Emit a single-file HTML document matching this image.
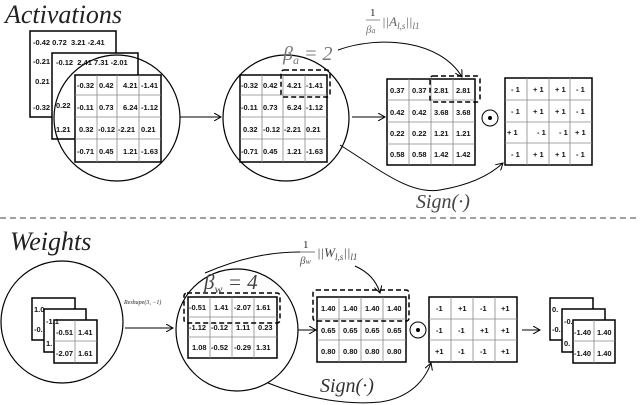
<!DOCTYPE html>
<html><head><style>html,body{margin:0;padding:0;background:#fff}svg{display:block}
.t{font-family:"Liberation Sans",sans-serif;font-size:7.5px;font-weight:bold;fill:#111}
.m{font-family:"Liberation Serif",serif;font-style:italic;fill:#222}
</style></head><body>
<svg width="640" height="405" viewBox="0 0 640 405" xmlns="http://www.w3.org/2000/svg">
<defs><marker id="a" markerWidth="8" markerHeight="8" refX="7" refY="4" orient="auto" markerUnits="userSpaceOnUse"><path d="M0,0 L7,4 L0,8" fill="none" stroke="#000" stroke-width="1"/></marker></defs>
<g fill="none" stroke="#000">
<text x="5" y="23" class="m" font-size="26" stroke="none">Activations</text>
<rect x="30" y="31" width="86" height="86" fill="#fff" stroke-width="1.5"/>
<rect x="52" y="53" width="86" height="86" fill="#fff" stroke-width="1.5"/>
<circle cx="117" cy="118" r="63" stroke-width="1.2"/>
<rect x="75" y="75" width="86" height="87" fill="#fff" stroke-width="1.5"/>
<path d="M97,75V162M117,75V162M139,75V162M75,95H161M75,117H161M75,139H161" stroke="#888" stroke-width="0.8"/>
<line x1="180" y1="117" x2="221" y2="117" marker-end="url(#a)"/>
<circle cx="286" cy="118" r="63" stroke-width="1.2"/>
<rect x="240" y="75" width="87" height="87" fill="#fff" stroke-width="1.5"/>
<path d="M262,75V162M283,75V162M305,75V162M240,95H327M240,117H327M240,139H327" stroke="#888" stroke-width="0.8"/>
<rect x="281" y="70" width="49" height="27" rx="3" stroke-dasharray="5,3" stroke-width="1.5"/>
<path d="M338,50 C380,35 440,40 462,77" marker-end="url(#a)"/>
<line x1="352" y1="117" x2="385" y2="117" marker-end="url(#a)"/>
<rect x="387" y="79" width="88" height="86" stroke-width="1.5"/>
<path d="M409,79V165M431,79V165M453,79V165M387,100H475M387,122H475M387,144H475" stroke="#888" stroke-width="0.8"/>
<rect x="430" y="76" width="50" height="26" rx="3" stroke-dasharray="5,3" stroke-width="1.5"/>
<circle cx="490" cy="118" r="8"/><circle cx="490" cy="118" r="1.5" fill="#000"/>
<rect x="505" y="78" width="87" height="87" stroke-width="1.5"/>
<path d="M527,78V165M549,78V165M570,78V165M505,100H592M505,122H592M505,143H592" stroke="#888" stroke-width="0.8"/>
<path d="M340,145 C380,170 410,195 440,190 C470,185 490,175 503,163" marker-end="url(#a)"/>
<line x1="0" y1="218" x2="640" y2="218" stroke="#444" stroke-dasharray="6,4"/>
<text x="10" y="250" class="m" font-size="26" stroke="none">Weights</text>
<circle cx="62" cy="322" r="61" stroke-width="1.2"/>
<rect x="32" y="298" width="43" height="42" fill="#fff" stroke-width="1.5"/>
<rect x="44" y="309" width="42" height="43" fill="#fff" stroke-width="1.5"/>
<rect x="54" y="320" width="43" height="43" fill="#fff" stroke-width="1.5"/>
<path d="M75,320V363M54,341H97" stroke="#888" stroke-width="0.8"/>
<text x="124" y="304" class="m" font-size="6" stroke="none">Reshape(3, −1)</text>
<line x1="125" y1="328" x2="173" y2="328" marker-end="url(#a)"/>
<circle cx="237" cy="330" r="61" stroke-width="1.2"/>
<rect x="188" y="297" width="89" height="61" fill="#fff" stroke-width="1.5"/>
<path d="M210,297V358M232,297V358M254,297V358M188,317H277M188,337H277" stroke="#888" stroke-width="0.8"/>
<rect x="184" y="293" width="96" height="30" rx="3" stroke-dasharray="5,3" stroke-width="1.5"/>
<path d="M205,273 C240,258 270,252 300,252"/>
<path d="M355,266 C368,272 376,280 380,293" marker-end="url(#a)"/>
<line x1="298" y1="330" x2="316" y2="330" marker-end="url(#a)"/>
<rect x="317" y="297" width="89" height="65" stroke-width="1.5"/>
<path d="M339,297V362M361,297V362M383,297V362M317,319H406M317,340H406" stroke="#888" stroke-width="0.8"/>
<rect x="313" y="290" width="96" height="31" rx="3" stroke-dasharray="5,3" stroke-width="1.5"/>
<circle cx="418" cy="330" r="8"/><circle cx="418" cy="330" r="1.5" fill="#000"/>
<rect x="429" y="297" width="88" height="65" stroke-width="1.5"/>
<path d="M451,297V362M473,297V362M495,297V362M429,319H517M429,340H517" stroke="#888" stroke-width="0.8"/>
<line x1="522" y1="330" x2="540" y2="330" marker-end="url(#a)"/>
<rect x="550" y="298" width="43" height="42" fill="#fff" stroke-width="1.5"/>
<rect x="562" y="309" width="43" height="43" fill="#fff" stroke-width="1.5"/>
<rect x="573" y="320" width="42" height="43" fill="#fff" stroke-width="1.5"/>
<path d="M594,320V363M573,341H615" stroke="#888" stroke-width="0.8"/>
<path d="M268,383 C310,400 350,405 380,402 C410,398 425,380 431,363" marker-end="url(#a)"/>
</g>
<g class="m" stroke="none">
<text x="283" y="60" font-size="20" fill="#777">β<tspan font-size="12" dy="4">a</tspan><tspan dy="-4"> = 2</tspan></text>
<text x="370" y="16" font-size="11" font-style="normal">1</text>
<line x1="366" y1="20" x2="380" y2="20" stroke="#777" stroke-width="0.8"/>
<text x="366" y="33" font-size="11" fill="#777">β<tspan font-size="8">a</tspan></text>
<text x="382" y="26" font-size="13" fill="#666">||A<tspan font-size="9" dy="3">l,s</tspan><tspan dy="-3">||</tspan><tspan font-size="9" dy="3">l1</tspan></text>
<text x="416" y="208" font-size="20" fill="#444">Sign(·)</text>
<text x="204" y="289" font-size="21" fill="#444">β<tspan font-size="12" dy="4">w</tspan><tspan dy="-4"> = 4</tspan></text>
<text x="303" y="248" font-size="11" font-style="normal">1</text>
<line x1="300" y1="252" x2="315" y2="252" stroke="#555" stroke-width="0.8"/>
<text x="300" y="264" font-size="11" fill="#555">β<tspan font-size="8">w</tspan></text>
<text x="317" y="257" font-size="13" fill="#444">||W<tspan font-size="9" dy="3">l,s</tspan><tspan dy="-3">||</tspan><tspan font-size="9" dy="3">l1</tspan></text>
<text x="320" y="392" font-size="20" fill="#333">Sign(·)</text>
</g>
<g class="t">
<text x="33" y="45">-0.42 0.72 &#160;3.21 -2.41</text>
<text x="33" y="64">-0.21</text><text x="33" y="84">&#160;0.21</text><text x="33" y="110">-0.32</text>
<text x="56" y="65">-0.12 &#160;2.41 7.31 -2.01</text>
<text x="56" y="108">0.22</text><text x="56" y="132">1.21</text>
<text x="77" y="88">-0.32</text><text x="99" y="88">0.42</text><text x="123" y="88">4.21</text><text x="141" y="88">-1.41</text>
<text x="77" y="110">-0.11</text><text x="99" y="110">0.73</text><text x="123" y="110">6.24</text><text x="141" y="110">-1.12</text>
<text x="79" y="132">0.32</text><text x="98" y="132">-0.12</text><text x="118" y="132">-2.21</text><text x="141" y="132">0.21</text>
<text x="77" y="154">-0.71</text><text x="99" y="154">0.45</text><text x="123" y="154">1.21</text><text x="141" y="154">-1.63</text>
<text x="241" y="88">-0.32</text><text x="263" y="88">0.42</text><text x="287" y="88">4.21</text><text x="306" y="88">-1.41</text>
<text x="241" y="110">-0.11</text><text x="263" y="110">0.73</text><text x="287" y="110">6.24</text><text x="306" y="110">-1.12</text>
<text x="243" y="132">0.32</text><text x="263" y="132">-0.12</text><text x="284" y="132">-2.21</text><text x="306" y="132">0.21</text>
<text x="241" y="154">-0.71</text><text x="263" y="154">0.45</text><text x="287" y="154">1.21</text><text x="306" y="154">-1.63</text>
<text x="390" y="93">0.37</text><text x="412" y="93">0.37</text><text x="434" y="93">2.81</text><text x="456" y="93">2.81</text>
<text x="390" y="115">0.42</text><text x="412" y="115">0.42</text><text x="434" y="115">3.68</text><text x="456" y="115">3.68</text>
<text x="390" y="136">0.22</text><text x="412" y="136">0.22</text><text x="434" y="136">1.21</text><text x="456" y="136">1.21</text>
<text x="390" y="157">0.58</text><text x="412" y="157">0.58</text><text x="434" y="157">1.42</text><text x="456" y="157">1.42</text>
<text x="511" y="92">- 1</text><text x="533" y="92">+ 1</text><text x="555" y="92">+ 1</text><text x="576" y="92">- 1</text>
<text x="511" y="114">- 1</text><text x="533" y="114">+ 1</text><text x="555" y="114">+ 1</text><text x="576" y="114">- 1</text>
<text x="507" y="135">+ 1</text><text x="537" y="135">- 1</text><text x="559" y="135">- 1</text><text x="575" y="135">+ 1</text>
<text x="511" y="157">- 1</text><text x="533" y="157">+ 1</text><text x="555" y="157">+ 1</text><text x="576" y="157">- 1</text>
<text x="34" y="312">1.0</text><text x="34" y="332">-0.</text><text x="46" y="324">-1.1</text><text x="46" y="346">1.</text>
<text x="56" y="335">-0.51</text><text x="78" y="335">1.41</text>
<text x="56" y="356">-2.07</text><text x="78" y="356">1.61</text>
<text x="189" y="310">-0.51</text><text x="214" y="310">1.41</text><text x="234" y="310">-2.07</text><text x="256" y="310">1.61</text>
<text x="189" y="330">-1.12</text><text x="211" y="330">-0.12</text><text x="236" y="330">1.11</text><text x="258" y="330">0.23</text>
<text x="192" y="350">1.08</text><text x="211" y="350">-0.52</text><text x="234" y="350">-0.29</text><text x="256" y="350">1.31</text>
<text x="321" y="311">1.40</text><text x="343" y="311">1.40</text><text x="365" y="311">1.40</text><text x="387" y="311">1.40</text>
<text x="321" y="333">0.65</text><text x="343" y="333">0.65</text><text x="365" y="333">0.65</text><text x="387" y="333">0.65</text>
<text x="321" y="354">0.80</text><text x="343" y="354">0.80</text><text x="365" y="354">0.80</text><text x="387" y="354">0.80</text>
<text x="436" y="311">-1</text><text x="458" y="311">+1</text><text x="480" y="311">-1</text><text x="501" y="311">+1</text>
<text x="436" y="333">-1</text><text x="458" y="333">-1</text><text x="480" y="333">+1</text><text x="501" y="333">+1</text>
<text x="435" y="354">+1</text><text x="458" y="354">-1</text><text x="480" y="354">-1</text><text x="501" y="354">+1</text>
<text x="552" y="312">0.</text><text x="552" y="332">-0.</text><text x="564" y="324">-0.</text><text x="564" y="346">0.</text>
<text x="574" y="335">-1.40</text><text x="597" y="335">1.40</text>
<text x="574" y="356">-1.40</text><text x="597" y="356">1.40</text>
</g>
</svg>
</body></html>
